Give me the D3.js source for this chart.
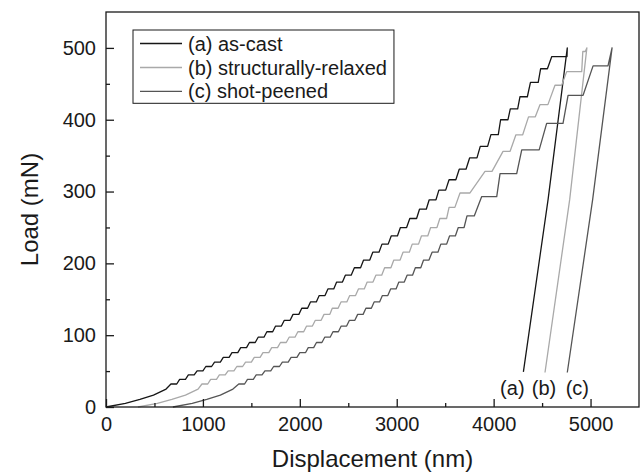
<!DOCTYPE html>
<html><head><meta charset="utf-8">
<script src="https://cdn.jsdelivr.net/npm/d3@7"></script>
<style>
body{margin:0;background:#fff}
svg{display:block}
text{font-family:"Liberation Sans",Arial,Helvetica,sans-serif;fill:#1a1a1a}
</style>
</head><body>
<svg id="chart" width="640" height="475"></svg>
<script>
// ---------- data (displacement in nm, load in mN) ----------
const seriesNames = ["(a) as-cast", "(b) structurally-relaxed", "(c) shot-peened"];
const curveTags = ["(a)", "(b)", "(c)"];
const tagPositions = [[4193, 27], [4520, 27], [4864, 27]];
const xTicks = [0, 1000, 2000, 3000, 4000, 5000];
const xMinorTicks = [500, 1500, 2500, 3500, 4500];
const yTicks = [0, 100, 200, 300, 400, 500];
const yMinorTicks = [50, 150, 250, 350, 450];

// (a) as-cast
const smoothA = [[0,0],[200,5],[350,10.5],[490,16.5],[620,25]];
const stepsA = [
  [670,730,32],[760,820,38.5],[850,910,44.6],[940,1000,50.4],[1030,1090,56.4],
  [1120,1180,62.6],[1210,1270,69.1],[1300,1360,75.8],[1390,1450,82.7],[1480,1540,89.8],
  [1570,1630,97.2],[1660,1720,104.8],[1750,1810,112.7],[1840,1900,120.7],[1930,1990,129.0],
  [2020,2080,137.5],[2110,2170,146.3],[2200,2260,155.2],[2290,2350,164.4],[2380,2440,173.9],
  [2470,2530,183.5],[2563,2627,193.9],[2658,2722,204.6],[2753,2817,215.6],[2848,2912,226.8],
  [2943,3007,238.2],[3038,3102,249.9],[3135,3205,262.5],[3235,3305,275.4],[3335,3405,288.5],
  [3435,3505,302.0],[3540,3610,316.4],[3645,3715,331.1],[3752,3828,346.8],[3862,3938,362.9],
  [3972,4048,379.3],[4072,4148,400],[4172,4248,415],[4272,4348,432],[4380,4460,452],
  [4485,4555,471],[4600,4757,488]
];
const unloadA = [[4760,500],[4562,289],[4307,49]];

// (b) structurally-relaxed
const smoothB = [[330,0],[530,5],[680,10.5],[820,16.5],[950,25]];
const stepsB = [
  [990,1050,32],[1080,1140,38.5],[1170,1230,44.6],[1260,1320,50.4],[1350,1410,56.4],
  [1440,1500,62.6],[1530,1590,69.1],[1620,1680,75.8],[1710,1770,82.7],[1800,1860,89.8],
  [1890,1950,97.2],[1980,2040,104.8],[2070,2130,112.7],[2160,2220,120.7],[2250,2310,129.0],
  [2335,2395,137.5],[2425,2485,146.3],[2515,2575,155.2],[2605,2665,164.4],[2695,2755,173.9],
  [2785,2845,183.5],[2875,2940,193.9],[2970,3035,204.6],[3065,3130,215.6],[3160,3225,226.8],
  [3255,3320,238.2],[3350,3415,249.9],[3445,3515,262.5],[3540,3600,278],[3653,3756,298],
  [3911,3983,328],[4097,4170,356],[4230,4300,379],[4360,4430,404],[4478,4560,421],
  [4633,4702,448],[4754,4909,467],[4920,4945,495]
];
const unloadB = [[4962,500],[4785,289],[4530,48]];

// (c) shot-peened
const smoothC = [[690,0],[890,5],[1040,10.5],[1180,16.5],[1310,25]];
const stepsC = [
  [1370,1430,32],[1460,1520,38.5],[1550,1610,44.6],[1640,1700,50.4],[1730,1790,56.4],
  [1820,1880,62.6],[1910,1970,69.1],[2000,2060,75.8],[2087,2143,82.7],[2172,2228,89.8],
  [2257,2313,97.2],[2342,2398,104.8],[2427,2483,112.7],[2512,2568,120.7],[2597,2653,129.0],
  [2682,2738,137.5],[2767,2823,146.3],[2852,2908,155.2],[2937,2993,164.4],[3022,3078,173.9],
  [3107,3163,183.5],[3192,3248,193.9],[3277,3333,204.6],[3365,3425,215.6],[3455,3515,226.8],
  [3545,3605,238.2],[3635,3695,249.9],[3725,3800,266],[3877,4032,293],[4066,4238,325],
  [4290,4470,358],[4547,4716,395],[4768,4923,434],[5026,5180,475]
];
const unloadC = [[5222,500],[5022,289],[4760,48]];

const seriesColors = ["#161616", "#a9a9a9", "#555555"];

// ---------- build ----------
const W = 640, H = 475;
const plot = {left: 106, right: 639, top: 12, bottom: 407};
const x = d3.scaleLinear().domain([0, 5500]).range([plot.left, plot.right]);
const y = d3.scaleLinear().domain([0, 550]).range([plot.bottom, plot.top]);
const svg = d3.select("#chart");
const FONT = '"Liberation Sans",Arial,Helvetica,sans-serif';

function buildCurve(smooth, steps, unload) {
  const pts = smooth.slice();
  steps.forEach(s => { pts.push([s[0], s[2]]); pts.push([s[1], s[2]]); });
  return pts.concat(unload);
}
const curves = [
  buildCurve(smoothA, stepsA, unloadA),
  buildCurve(smoothB, stepsB, unloadB),
  buildCurve(smoothC, stepsC, unloadC)
];

const line = d3.line().x(d => x(d[0])).y(d => y(d[1]));

// curves
svg.append("g").selectAll("path").data(curves).join("path")
  .attr("d", line)
  .attr("fill", "none")
  .attr("stroke", (d, i) => seriesColors[i])
  .attr("stroke-width", 1.3)
  .attr("stroke-linejoin", "round");

// axes
const xg = svg.append("g").attr("transform", `translate(0,${plot.bottom})`)
  .call(d3.axisBottom(x).tickValues(xTicks).tickSize(-8).tickPadding(10).tickFormat(d3.format("d")));
const xgm = svg.append("g").attr("transform", `translate(0,${plot.bottom})`)
  .call(d3.axisBottom(x).tickValues(xMinorTicks).tickSize(-4).tickFormat(""));
const yg = svg.append("g").attr("transform", `translate(${plot.left},0)`)
  .call(d3.axisLeft(y).tickValues(yTicks).tickSize(-8).tickPadding(10).tickFormat(d3.format("d")));
const ygm = svg.append("g").attr("transform", `translate(${plot.left},0)`)
  .call(d3.axisLeft(y).tickValues(yMinorTicks).tickSize(-4).tickFormat(""));
[xg, xgm, yg, ygm].forEach(g => {
  g.select(".domain").remove();
  g.attr("font-size", 20).attr("font-family", FONT);
  g.selectAll("line").attr("stroke", "#1a1a1a").attr("stroke-width", 1.3);
  g.selectAll("text").attr("fill", "#1a1a1a");
});

// frame
svg.append("rect")
  .attr("x", x(0)).attr("y", y(550))
  .attr("width", x(5500) - x(0)).attr("height", y(0) - y(550))
  .attr("fill", "none").attr("stroke", "#1a1a1a").attr("stroke-width", 1.3);

// axis titles
svg.append("text").attr("x", (plot.left + plot.right) / 2).attr("y", 466.5)
  .attr("text-anchor", "middle").attr("font-size", 24).text("Displacement (nm)");
svg.append("text").attr("transform", `translate(38,${(plot.top + plot.bottom) / 2}) rotate(-90)`)
  .attr("text-anchor", "middle").attr("font-size", 24).text("Load (mN)");

// curve tags
svg.append("g").selectAll("text").data(curveTags).join("text")
  .attr("x", (d, i) => x(tagPositions[i][0]))
  .attr("y", (d, i) => y(tagPositions[i][1]))
  .attr("dy", "0.35em").attr("text-anchor", "middle").attr("font-size", 20)
  .text(d => d);

// legend
const leg = svg.append("g");
const legBox = leg.append("rect").attr("x", 133).attr("y", 30).attr("height", 73.3)
  .attr("fill", "#fff").attr("stroke", "#1a1a1a").attr("stroke-width", 1);
const rowsY = [43.5, 67.5, 91.3];
let maxEnd = 0;
seriesNames.forEach((name, i) => {
  leg.append("line").attr("x1", 140).attr("x2", 182).attr("y1", rowsY[i]).attr("y2", rowsY[i])
    .attr("stroke", seriesColors[i]).attr("stroke-width", 1.3);
  const t = leg.append("text").attr("x", 188).attr("y", rowsY[i]).attr("dy", "0.35em")
    .attr("font-size", 20).text(name);
  maxEnd = Math.max(maxEnd, 188 + t.node().getComputedTextLength());
});
legBox.attr("width", maxEnd + 7 - 133);
</script>
</body></html>
